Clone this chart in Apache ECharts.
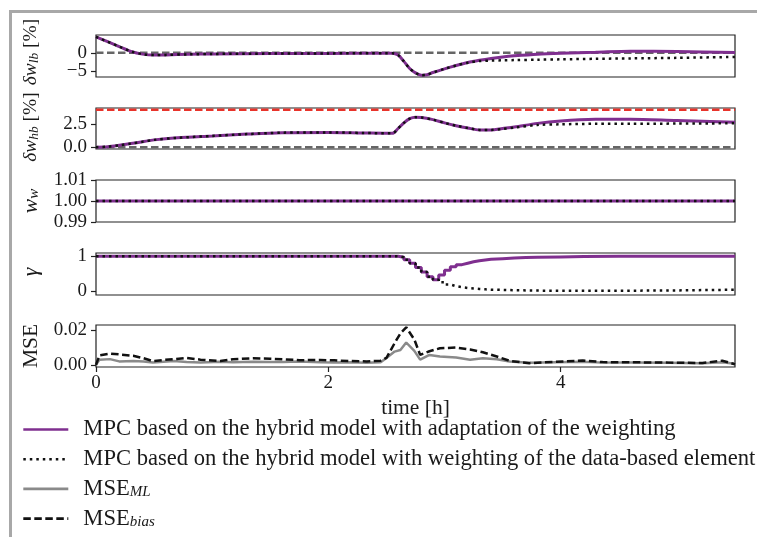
<!DOCTYPE html>
<html><head><meta charset="utf-8">
<script src="https://cdn.jsdelivr.net/npm/echarts@6/dist/echarts.min.js"></script>
<style>html,body{margin:0;padding:0;background:#fff}#c{width:757px;height:537px}</style>
</head><body><div id="c"></div>
<script>
// ---------------- data ----------------
const tLb = [0, 0.1, 0.2, 0.3, 0.4, 0.5, 0.6, 0.8, 1.0, 1.5, 2.0, 2.5, 2.55, 2.6, 2.65, 2.7, 2.75, 2.8, 2.85, 2.9, 3.0, 3.1, 3.2, 3.3, 3.4, 3.5, 3.6, 3.8, 4.0, 4.3, 4.6, 5.0, 5.5];
const lbAdapt = [4.3, 3.0, 1.7, 0.4, -0.35, -0.6, -0.55, -0.4, -0.3, -0.2, -0.15, -0.1, -0.1, -0.6, -2.3, -4.2, -5.4, -6.0, -5.9, -5.3, -4.3, -3.4, -2.6, -2.0, -1.5, -1.1, -0.8, -0.35, -0.1, 0.15, 0.45, 0.35, 0.1];
const lbFixed = [4.3, 3.0, 1.7, 0.4, -0.35, -0.6, -0.55, -0.4, -0.3, -0.2, -0.15, -0.1, -0.1, -0.6, -2.3, -4.2, -5.4, -6.0, -5.9, -5.3, -4.3, -3.4, -2.65, -2.2, -2.1, -2.0, -1.95, -1.85, -1.75, -1.6, -1.5, -1.35, -1.1];
const lbRef = 0;

const tHb = [0, 0.1, 0.2, 0.3, 0.4, 0.5, 0.7, 1.0, 1.3, 1.6, 2.0, 2.3, 2.55, 2.6, 2.65, 2.7, 2.75, 2.8, 2.9, 3.0, 3.1, 3.2, 3.3, 3.4, 3.5, 3.6, 3.8, 4.0, 4.3, 4.6, 5.0, 5.5];
const hbAdapt = [0, 0.05, 0.2, 0.38, 0.58, 0.78, 1.0, 1.2, 1.4, 1.55, 1.58, 1.52, 1.48, 2.0, 2.6, 3.05, 3.2, 3.18, 2.95, 2.6, 2.3, 2.05, 1.85, 1.85, 2.0, 2.15, 2.55, 2.8, 2.98, 3.0, 2.85, 2.68];
const hbFixed = [0, 0.05, 0.2, 0.38, 0.58, 0.78, 1.0, 1.2, 1.4, 1.55, 1.58, 1.52, 1.48, 2.0, 2.6, 3.05, 3.2, 3.18, 2.95, 2.6, 2.3, 2.05, 1.85, 1.85, 1.95, 2.1, 2.38, 2.45, 2.5, 2.5, 2.53, 2.56];
const hbLower = 0;
const hbUpper = 4;

const tWw = [0, 5.5];
const wwAdapt = [1, 1];
const wwFixed = [1, 1];

const tGamma = [0, 2.55, 2.6, 2.65, 2.7, 2.75, 2.8, 2.85, 2.9, 2.95, 3.0, 3.05, 3.1, 3.15, 3.2, 3.25, 3.3, 3.35, 3.4, 3.5, 3.6, 3.7, 3.8, 4.0, 4.2, 4.5, 5.0, 5.5];
const gammaAdapt = [1, 1, 0.97, 0.9, 0.8, 0.68, 0.55, 0.42, 0.33, 0.47, 0.6, 0.7, 0.76, 0.8, 0.84, 0.87, 0.89, 0.91, 0.93, 0.95, 0.96, 0.97, 0.98, 0.99, 1.0, 1.0, 1.0, 1.0];
const gammaFixed = [1, 1, 0.97, 0.9, 0.8, 0.68, 0.55, 0.42, 0.33, 0.26, 0.2, 0.15, 0.12, 0.1, 0.085, 0.07, 0.06, 0.05, 0.045, 0.035, 0.03, 0.025, 0.02, 0.02, 0.02, 0.03, 0.05, 0.1];

const tMse = [0, 0.03, 0.12, 0.2, 0.32, 0.41, 0.49, 0.58, 0.67, 0.78, 0.9, 1.07, 1.18, 1.35, 1.5, 1.61, 1.75, 1.93, 2.05, 2.18, 2.33, 2.45, 2.5, 2.57, 2.62, 2.67, 2.74, 2.79, 2.87, 2.96, 3.1, 3.22, 3.33, 3.45, 3.56, 3.73, 3.96, 4.19, 4.36, 4.6, 4.93, 5.22, 5.39, 5.5];
const mseBias = [0, 0.0055, 0.0065, 0.006, 0.0052, 0.0038, 0.0022, 0.0028, 0.0033, 0.004, 0.003, 0.0022, 0.0032, 0.0038, 0.0035, 0.0032, 0.0027, 0.0028, 0.0026, 0.0022, 0.002, 0.0024, 0.004, 0.0124, 0.018, 0.0215, 0.0145, 0.0057, 0.0078, 0.0095, 0.0099, 0.0088, 0.0072, 0.0048, 0.0023, 0.001, 0.0018, 0.0025, 0.0016, 0.0015, 0.0013, 0.0011, 0.0024, 0.0004];
const mseMl = [0, 0.003, 0.0033, 0.002, 0.0022, 0.002, 0.0014, 0.0018, 0.0022, 0.0016, 0.0014, 0.0018, 0.0015, 0.0018, 0.0016, 0.0017, 0.002, 0.0015, 0.0014, 0.0015, 0.0012, 0.0015, 0.004, 0.0076, 0.0085, 0.0128, 0.008, 0.003, 0.0057, 0.0048, 0.0042, 0.003, 0.0038, 0.0032, 0.0019, 0.0012, 0.0015, 0.0018, 0.0013, 0.0014, 0.0012, 0.001, 0.0015, 0.0006];

const xTicks = [0, 2, 4];
const yTicksLb = [-5, 0];
const yTicksHb = [0, 2.5];
const yTicksWw = [0.99, 1.0, 1.01];
const yTicksGamma = [0, 1];
const yTicksMse = [0, 0.02];

const nameAdapt = 'MPC based on the hybrid model with adaptation of the weighting';
const nameFixed = 'MPC based on the hybrid model with weighting of the data-based element';
const nameMl = 'MSE_ML';
const nameBias = 'MSE_bias';

// ---------------- layout / style ----------------
const FONT = '"Liberation Serif", "Times New Roman", serif';
const TXT = '#1a1a1a';
const PURPLE = '#7f2f8f';
const X_MIN = 0, X_MAX = 5.5;
const GRID_LEFT = 96, GRID_RIGHT = 22;
const panels = [
  {top: 35, height: 42, range: [-6.5, 4.8], ticks: yTicksLb, fmt: v => v < 0 ? '\u2212' + Math.abs(v) : String(v),
   label: '{a|\u03b4w}{b|lb}{c| [%]}', cy: 52},
  {top: 108, height: 41, range: [-0.2, 4.2], ticks: yTicksHb, fmt: v => v.toFixed(1),
   label: '{a|\u03b4w}{b|hb}{c| [%]}', cy: 127},
  {top: 180, height: 42, range: [0.99, 1.01], ticks: yTicksWw, fmt: v => v.toFixed(2),
   label: '{i|w}{s|w}', cy: 201},
  {top: 253, height: 42, range: [-0.1, 1.09], ticks: yTicksGamma, fmt: v => String(Math.round(v)),
   label: '{i|\u03b3}', cy: 272},
  {top: 325, height: 42, range: [-0.0012, 0.0228], ticks: yTicksMse, fmt: v => v.toFixed(2),
   label: '{n|MSE}', cy: 346}
];

const zip = (t, v) => t.map((x, i) => [x, v[i]]);
const hline = (y) => [[X_MIN, y], [X_MAX, y]];

const grids = panels.map(p => ({
  left: GRID_LEFT, right: GRID_RIGHT, top: p.top, height: p.height,
  show: true, borderColor: '#222', borderWidth: 1.2, backgroundColor: 'transparent'
}));

const xAxes = panels.map((p, i) => {
  const last = i === panels.length - 1;
  return {
    type: 'value', gridIndex: i, min: X_MIN, max: X_MAX, position: 'bottom',
    axisLine: {show: false, onZero: false}, splitLine: {show: false},
    axisTick: {show: last, customValues: xTicks, length: 5, lineStyle: {color: '#222', width: 1.2}},
    axisLabel: {show: last, customValues: xTicks, fontFamily: FONT, fontSize: 19, color: TXT, margin: 7,
                showMinLabel: true, showMaxLabel: true},
    name: last ? 'time [h]' : '', nameLocation: 'middle', nameGap: 30,
    nameTextStyle: {fontFamily: FONT, fontSize: 21.5, color: TXT}
  };
});

function yAxisFor(p, gridIndex, ticks) {
  return {
    type: 'value', gridIndex, min: p.range[0], max: p.range[1], position: 'left', offset: 0,
    axisLine: {show: false, onZero: false}, splitLine: {show: false},
    axisTick: {show: true, customValues: ticks, length: 5, lineStyle: {color: '#222', width: 1.2}},
    axisLabel: {customValues: ticks, formatter: p.fmt, fontFamily: FONT, fontSize: 19,
                color: TXT, margin: 9, showMinLabel: true, showMaxLabel: true, hideOverlap: false}
  };
}
// Panel 1's two tick labels sit closer than their text height, so ECharts would drop one;
// the second one goes on an overlaid twin axis of the same grid and range.
const yAxes = panels.map((p, i) => yAxisFor(p, i, i === 0 ? p.ticks.slice(0, 1) : p.ticks));
yAxes.push(yAxisFor(panels[0], 0, panels[0].ticks.slice(1)));

const solidPurple = {color: PURPLE, width: 3};
const dotted = {color: '#111', width: 2.5, type: [2.5, 4], cap: 'butt'};
const refDash = (c) => ({color: c, width: 2.5, type: [7.5, 3.5]});

function line(name, xi, data, lineStyle, z, extra) {
  return Object.assign({
    type: 'line', name, xAxisIndex: xi, yAxisIndex: xi, data, showSymbol: false, symbol: 'none',
    lineStyle, itemStyle: {color: lineStyle.color}, z, animation: false, silent: true
  }, extra || {});
}

const series = [
  line('ref0', 0, hline(lbRef), refDash('#666'), 1),
  line(nameAdapt, 0, zip(tLb, lbAdapt), solidPurple, 2, {smooth: 0.3}),
  line(nameFixed, 0, zip(tLb, lbFixed), dotted, 3, {smooth: 0.3}),
  line('ref1', 1, hline(hbLower), refDash('#666'), 1),
  line('ref2', 1, hline(hbUpper), refDash('#e8332b'), 1),
  line(nameAdapt, 1, zip(tHb, hbAdapt), solidPurple, 2, {smooth: 0.3}),
  line(nameFixed, 1, zip(tHb, hbFixed), dotted, 3, {smooth: 0.3}),
  line(nameAdapt, 2, zip(tWw, wwAdapt), solidPurple, 2),
  line(nameFixed, 2, zip(tWw, wwFixed), dotted, 3),
  line(nameAdapt, 3, zip(tGamma, gammaAdapt), solidPurple, 2, {step: 'end'}),
  line(nameFixed, 3, zip(tGamma, gammaFixed), dotted, 3, {step: 'end'}),
  line(nameMl, 4, zip(tMse, mseMl), {color: '#8a8a8a', width: 2.5}, 2),
  line(nameBias, 4, zip(tMse, mseBias), {color: '#111', width: 2.5, type: [7.5, 3.5]}, 3)
];

const richBase = {
  n: {fontFamily: FONT, fontSize: 21.5, lineHeight: 22, fill: TXT},
  i: {fontFamily: FONT, fontSize: 21.5, fontStyle: 'italic', lineHeight: 22, fill: TXT},
  s: {fontFamily: FONT, fontSize: 15, fontStyle: 'italic', lineHeight: 8, verticalAlign: 'bottom', fill: TXT},
  a: {fontFamily: FONT, fontSize: 19.5, fontStyle: 'italic', lineHeight: 20, fill: TXT},
  b: {fontFamily: FONT, fontSize: 13.5, fontStyle: 'italic', lineHeight: 7, verticalAlign: 'bottom', fill: TXT},
  c: {fontFamily: FONT, fontSize: 19.5, lineHeight: 20, fill: TXT}
};

const graphics = [
  {type: 'rect', left: 9, top: 10, shape: {width: 748, height: 3}, style: {fill: '#a8a8a8'}, silent: true},
  {type: 'rect', left: 9, top: 10, shape: {width: 3, height: 527}, style: {fill: '#a8a8a8'}, silent: true}
].concat(panels.map(p => ({
  type: 'text', x: 31, y: p.cy, rotation: Math.PI / 2, silent: true,
  style: {text: p.label, rich: richBase, align: 'center', verticalAlign: 'middle', fill: TXT,
          fontFamily: FONT, fontSize: 21.5}
})));

const legendRich = {
  m: {fontFamily: FONT, fontSize: 22.6, lineHeight: 22, color: TXT},
  s: {fontFamily: FONT, fontSize: 15, fontStyle: 'italic', lineHeight: 8, verticalAlign: 'bottom', color: TXT}
};

const chart = echarts.init(document.getElementById('c'), null, {renderer: 'canvas'});
chart.setOption({
  animation: false,
  backgroundColor: '#fff',
  grid: grids, xAxis: xAxes, yAxis: yAxes, series,
  graphic: graphics,
  legend: {
    data: [nameAdapt, nameFixed, nameMl, nameBias],
    orient: 'vertical', left: 22, top: 418, padding: 0, itemGap: 6.7, itemWidth: 45, itemHeight: 14,
    selectedMode: false,
    itemStyle: {opacity: 0, borderWidth: 0},
    lineStyle: {width: 2.6},
    formatter: n => n === nameMl ? '{m|MSE}{s|ML}' : n === nameBias ? '{m|MSE}{s|bias}' : '{m|' + n + '}',
    textStyle: {fontFamily: FONT, fontSize: 22.6, color: TXT, padding: [0, 0, 0, 10], rich: legendRich}
  }
});
</script></body></html>
